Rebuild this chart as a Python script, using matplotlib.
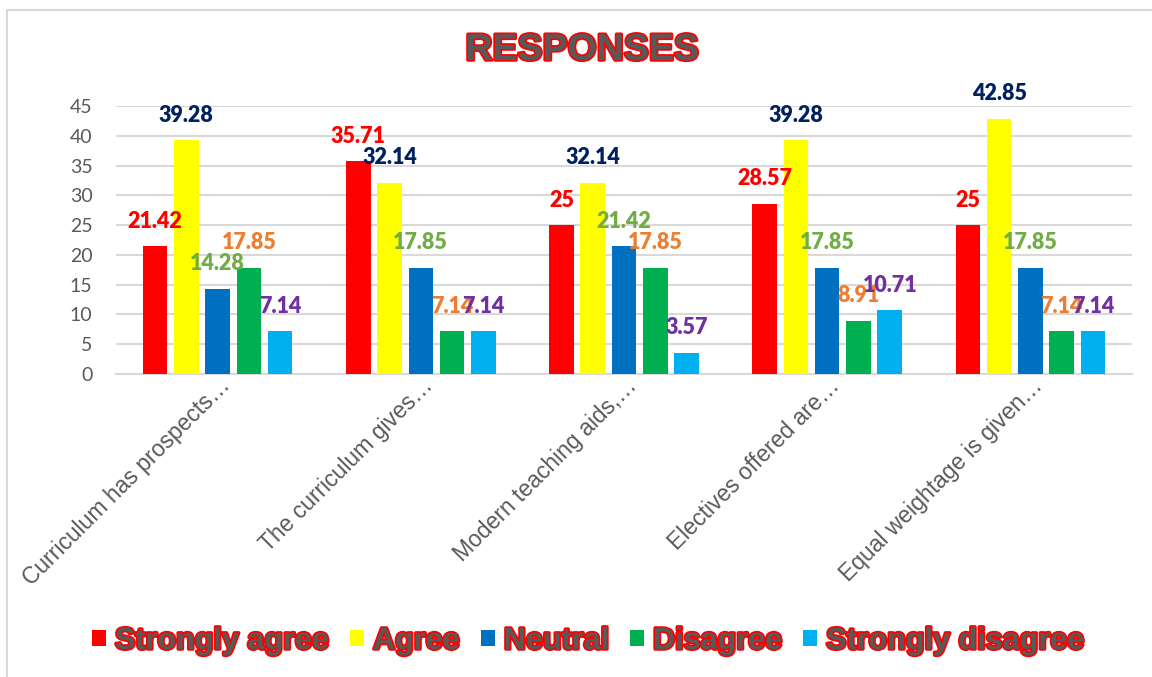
import numpy as np
import matplotlib
matplotlib.use("Agg")
import matplotlib.pyplot as plt
import matplotlib.patheffects as pe
from matplotlib.patches import Rectangle
from matplotlib.transforms import ScaledTranslation

categories = ["Curriculum has prospects\u2026", "The curriculum gives\u2026",
              "Modern teaching aids,\u2026", "Electives offered are\u2026",
              "Equal weightage is given\u2026"]
series_names = ["Strongly agree", "Agree", "Neutral", "Disagree", "Strongly disagree"]
strongly_agree = [21.42, 35.71, 25, 28.57, 25]
agree = [39.28, 32.14, 32.14, 39.28, 42.85]
neutral = [14.28, 17.85, 21.42, 17.85, 17.85]
disagree = [17.85, 7.14, 17.85, 8.91, 7.14]
strongly_disagree = [7.14, 7.14, 3.57, 10.71, 7.14]

series = [strongly_agree, agree, neutral, disagree, strongly_disagree]
bar_colors = ["#FF0000", "#FFFF00", "#0070C0", "#00B050", "#00B0F0"]
label_colors = ["#FF0000", "#002060", "#70AD47", "#ED7D31", "#7030A0"]
gray = "#595959"
grid = "#D9D9D9"

W, H = 1152, 677
fig = plt.figure(figsize=(W / 100, H / 100), dpi=100)
ax = fig.add_axes([116 / W, 1 - 374 / H, (1132 - 116) / W, (374 - 106) / H])

# outer chart border
fig.patches.append(Rectangle((7 / W, -0.1), 1.2, 1.1 - 10 / H, transform=fig.transFigure,
                             fill=False, edgecolor=grid, linewidth=1.5))

x = np.arange(len(categories))
pitch = 0.154
width = 0.121
for i, vals in enumerate(series):
    b = ax.bar(x + (i - 2) * pitch, vals, width, color=bar_colors[i],
               label=series_names[i], zorder=3)
    texts = ax.bar_label(b, labels=[f"{v:g}" for v in vals], padding=18,
                         color=label_colors[i], fontsize=15.5, fontweight="heavy",
                         family="Lato", zorder=4)
    for t in texts:
        t.set_va("center")

ax.set_xlim(-0.5, len(categories) - 0.5)
ax.set_ylim(0, 45)
ax.set_yticks(np.arange(0, 46, 5))
ax.yaxis.grid(True, color=grid, linewidth=1.5, zorder=0)
ax.set_axisbelow(True)
for s in ["top", "right", "left"]:
    ax.spines[s].set_visible(False)
ax.spines["bottom"].set_color(grid)
ax.spines["bottom"].set_linewidth(1.5)
ax.tick_params(axis="both", length=0)
ax.tick_params(axis="y", pad=17, labelsize=14, labelcolor=gray)
for t in ax.get_yticklabels():
    t.set_family("Lato")

ax.set_xticks(x)
ax.set_xticklabels(categories, rotation=45, ha="right", va="center",
                   rotation_mode="anchor", fontsize=16.5, color=gray,
                   family="Liberation Sans")
ax.tick_params(axis="x", pad=6)
for t in ax.get_xticklabels():
    t.set_transform(t.get_transform() + ScaledTranslation(9 / 100, 0, fig.dpi_scale_trans))

outline = [pe.withStroke(linewidth=2.5, foreground="#FF0000")]
fig.text(582 / W, 1 - 50 / H, "RESPONSES", ha="center", va="center", fontsize=27,
         fontweight="bold", color=gray, family="Liberation Sans", path_effects=outline)

leg = fig.legend(loc="center", bbox_to_anchor=(588 / W, 1 - 641 / H), ncol=5,
                 frameon=False, prop={"family": "Liberation Sans", "weight": "bold", "size": 22},
                 handlelength=0.45, handleheight=0.45, handletextpad=0.3,
                 columnspacing=0.7)
for t in leg.get_texts():
    t.set_color(gray)
    t.set_path_effects(outline)

fig.savefig("out.png", dpi=100)
